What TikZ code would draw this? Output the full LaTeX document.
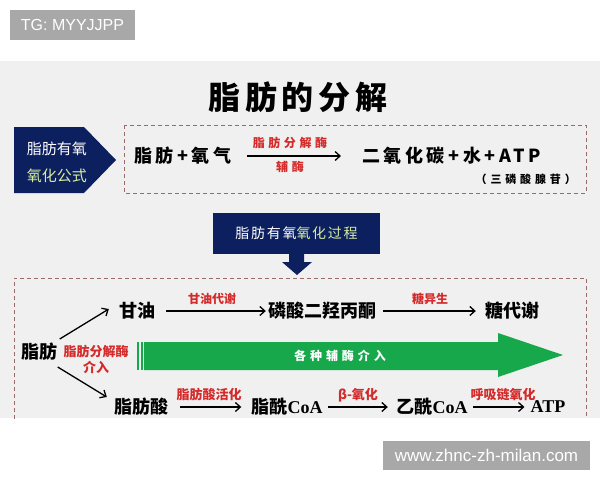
\documentclass[tikz,border=0pt]{standalone}
\usepackage{fontspec}
\setmainfont{Noto Sans CJK SC}
\newfontfamily\wmfont{Liberation Sans}
\newfontfamily\latserif{Liberation Serif}
\usetikzlibrary{arrows.meta}
\definecolor{navy}{HTML}{0C1F5E}
\definecolor{bandgray}{HTML}{F0F0F0}
\definecolor{wmgray}{HTML}{A8A8A8}
\definecolor{lblred}{HTML}{D42A2A}
\definecolor{lightgreen}{HTML}{D8EFA0}
\definecolor{arrowgreen}{HTML}{17A84B}
\definecolor{dashcol}{HTML}{9A6B6B}
\newcommand\lsp[1]{\addfontfeature{LetterSpace=#1}}
\begin{document}
\begin{tikzpicture}[x=1pt,y=-1pt,
  wm/.style={fill=wmgray,text=white,font=\wmfont\fontsize{16}{18}\selectfont,inner sep=0pt},
  chem/.style={inner sep=0pt,font=\fontsize{18}{20}\selectfont\bfseries},
  lbl/.style={inner sep=0pt,text=lblred,font=\fontsize{12}{14}\selectfont\bfseries},
  dashbox/.style={draw=dashcol,line width=1pt,dash pattern=on 4pt off 3pt},
  flow/.style={line width=1.3pt,-{Straight Barb[length=5pt,width=9pt,line width=1.3pt]}},
  navytext/.style={text=white,inner sep=0pt}]
\useasboundingbox (0,0) rectangle (600,480);
\fill[white] (0,0) rectangle (600,480);
\fill[bandgray] (0,61) rectangle (600,418);
% watermarks
\node[wm,minimum width=125pt,minimum height=30pt] (wmtop) at (72.5,25) {TG: MYYJJPP};
\node[wm,minimum width=207pt,minimum height=29pt,font=\wmfont\fontsize{17}{19}\selectfont] (wmbot) at (486.5,455.5) {www.zhnc-zh-milan.com};
% title
\node[inner sep=0pt,font=\fontsize{32}{36}\selectfont\bfseries\lsp{15}] (title) at (298,97) {脂肪的分解};
% formula label pentagon
\fill[navy] (14,127) -- (84,127) -- (116,160) -- (84,193) -- (14,193) -- cycle;
\node[navytext,font=\fontsize{15}{17}\selectfont] (pa) at (57,149) {脂肪有氧};
\node[navytext,text=lightgreen,font=\fontsize{15}{17}\selectfont] (pb) at (57,176) {氧化公式};
% formula box
\draw[dashbox] (124,125) rectangle (586,193);
\node[chem,anchor=west,font=\fontsize{18}{20}\selectfont\bfseries\lsp{20}] (lhs) at (134,156) {脂肪+氧气};
\node[chem,anchor=west,font=\fontsize{18}{20}\selectfont\bfseries\lsp{20}] (rhs) at (362,156) {二氧化碳+水+ATP};
\draw[flow,shorten <=15pt,shorten >=21pt] (lhs) -- (rhs);
\node[lbl,font=\fontsize{12}{14}\selectfont\bfseries\lsp{30}] (enz1) at (290,143) {脂肪分解酶};
\node[lbl,font=\fontsize{12}{14}\selectfont\bfseries\lsp{30}] (coenz) at (290,167) {辅酶};
\node[chem,anchor=east,font=\fontsize{11}{13}\selectfont\bfseries\lsp{35}] (atpname) at (576,179) {（三磷酸腺苷）};
% process box
\node[fill=navy,minimum width=167pt,minimum height=41pt,inner sep=0pt,font=\fontsize{14}{16}\selectfont\lsp{12}] (proc) at (296.5,233.5) {\textcolor{white}{脂肪有氧}\textcolor{lightgreen}{氧化过程}};
\fill[navy] (289,253) -- (304,253) -- (304,262) -- (312,262) -- (297,275) -- (282,262) -- (289,262) -- cycle;
% lower section
\begin{scope}
\clip (0,61) rectangle (600,418);
\draw[dashbox] (14,440) -- (14,278) -- (586,278) -- (586,440);
% green arrow
\fill[arrowgreen] (144,342) -- (498,342) -- (498,333) -- (563,355) -- (498,377) -- (498,370) -- (144,370) -- cycle;
\fill[arrowgreen] (137,342) rectangle (139,370);
\fill[arrowgreen] (141,342) rectangle (143,370);
\node[inner sep=0pt,text=white,font=\fontsize{12}{14}\selectfont\bfseries\lsp{33}] (aux) at (340,356) {各种辅酶介入};
% nodes
\node[chem] (fat) at (39,352) {脂肪};
\node[chem] (gly) at (137,311) {甘油};
\node[chem] (dhap) at (322,311) {磷酸二羟丙酮};
\node[chem] (sugar) at (512,311) {糖代谢};
\node[chem] (fa) at (141,407) {脂肪酸};
\node[chem] (acyl) at (287,407) {脂酰{\latserif CoA}};
\node[chem] (acetyl) at (432,407) {乙酰{\latserif CoA}};
\node[chem] (atp) at (548,407) {\latserif ATP};
\node[lbl,font=\fontsize{13}{15}\selectfont\bfseries,align=center] (lipase) at (96,359) {脂肪分解酶\\[1pt]介入};
% arrows
\draw[flow] ([shift={(2.5,-13)}]fat.east) -- ([shift={(-10,-2)}]gly.west);
\draw[flow] ([shift={(0.5,15)}]fat.east) -- ([shift={(-7,-10)}]fa.west);
\draw[flow,shorten <=11pt,shorten >=2pt] (gly) -- (dhap);
\draw[flow,shorten <=7pt,shorten >=9pt] (dhap) -- (sugar);
\draw[flow,shorten <=12pt,shorten >=10pt] (fa) -- (acyl);
\draw[flow,shorten <=5.5pt,shorten >=8.5pt] (acyl) -- (acetyl);
\draw[flow,shorten <=5.5pt,shorten >=6pt] (acetyl) -- (atp);
% arrow labels
\node[lbl] (l1) at (212,299) {甘油代谢};
\node[lbl] (l2) at (430,299) {糖异生};
\node[lbl,font=\fontsize{13}{15}\selectfont\bfseries] (l3) at (209,395) {脂肪酸活化};
\node[lbl,font=\fontsize{13}{15}\selectfont\bfseries] (l4) at (358,395) {β-氧化};
\node[lbl,font=\fontsize{13}{15}\selectfont\bfseries] (l5) at (503,395) {呼吸链氧化};
\end{scope}
\end{tikzpicture}
\end{document}
